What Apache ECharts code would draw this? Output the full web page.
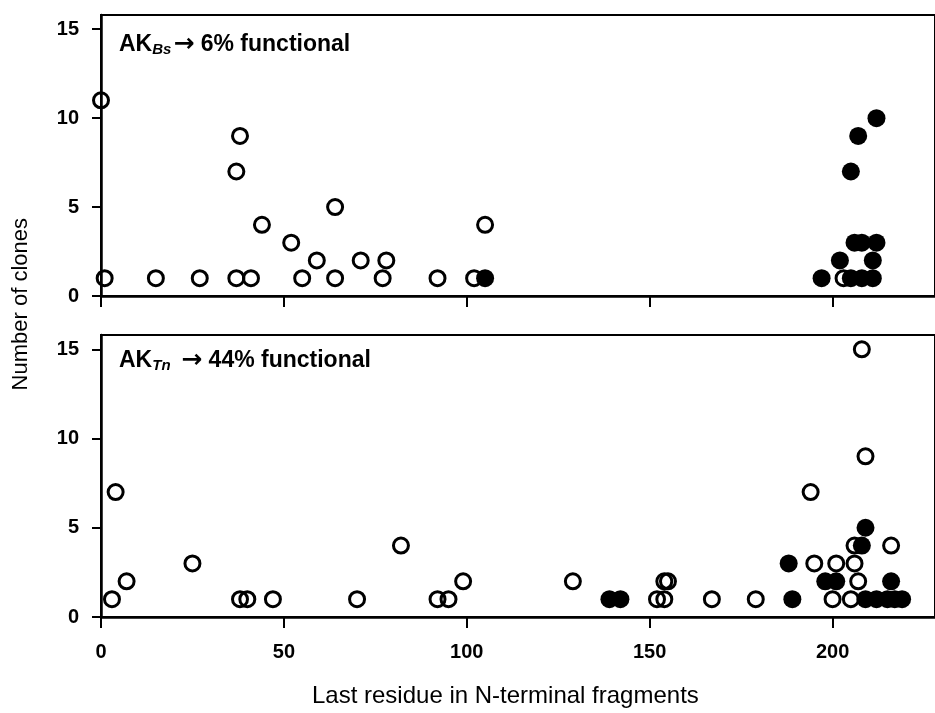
<!DOCTYPE html>
<html>
<head>
<meta charset="utf-8">
<script src="https://cdn.jsdelivr.net/npm/echarts@6/dist/echarts.min.js"></script>
<style>
  html, body { margin: 0; padding: 0; background: #fff; }
  #chart { width: 935px; height: 713px; }
</style>
</head>
<body>
<div id="chart"></div>
<script>
// [last residue, number of clones]
const bsOpen = [[0, 11], [1, 1], [15, 1], [27, 1], [37, 1], [37, 7], [38, 9], [41, 1], [44, 4], [52, 3], [55, 1], [59, 2], [64, 5], [64, 1], [71, 2], [77, 1], [78, 2], [92, 1], [102, 1], [105, 4], [203, 1]]
const bsFilled = [[105, 1], [197, 1], [202, 2], [205, 1], [205, 7], [206, 3], [207, 9], [208, 3], [208, 1], [211, 1], [211, 2], [212, 3], [212, 10]]
const tnOpen = [[3, 1], [4, 7], [7, 2], [25, 3], [38, 1], [40, 1], [47, 1], [70, 1], [82, 4], [92, 1], [95, 1], [99, 2], [129, 2], [152, 1], [154, 1], [154, 2], [155, 2], [167, 1], [179, 1], [194, 7], [195, 3], [200, 1], [201, 3], [205, 1], [206, 3], [206, 4], [207, 2], [208, 15], [209, 9], [216, 4]]
const tnFilled = [[139, 1], [142, 1], [188, 3], [189, 1], [198, 2], [201, 2], [208, 4], [209, 5], [209, 1], [212, 1], [215, 1], [216, 2], [217, 1], [219, 1]]
const xTicks = [0, 50, 100, 150, 200]
const yTicks = [0, 5, 10, 15]

const font = '"Liberation Sans", Arial, sans-serif'

function xAxis(gridIndex, showLabels) {
  return {
    type: 'value',
    gridIndex: gridIndex,
    min: 0,
    max: 228,
    splitLine: { show: false },
    axisLine: { lineStyle: { color: '#000', width: 2.5 } },
    axisTick: { length: 11, lineStyle: { color: '#000', width: 2 }, customValues: xTicks },
    axisLabel: {
      show: showLabels,
      customValues: xTicks,
      margin: 25,
      color: '#000',
      fontSize: 20,
      fontWeight: 'bold',
      fontFamily: font
    }
  }
}

function yAxis(gridIndex) {
  return {
    type: 'value',
    gridIndex: gridIndex,
    min: 0,
    max: 15.8,
    splitLine: { show: false },
    axisLine: { show: true, lineStyle: { color: '#000', width: 2.5 } },
    axisTick: { show: true, length: 9, lineStyle: { color: '#000', width: 2 }, customValues: yTicks },
    axisLabel: {
      customValues: yTicks,
      margin: 22,
      color: '#000',
      fontSize: 20,
      fontWeight: 'bold',
      fontFamily: font
    }
  }
}

function series(data, idx, filled) {
  return {
    type: 'scatter',
    xAxisIndex: idx,
    yAxisIndex: idx,
    data: data,
    symbol: 'circle',
    symbolSize: filled ? 18 : 15,
    itemStyle: filled
      ? { color: '#000', opacity: 1 }
      : { color: 'rgba(0,0,0,0)', borderColor: '#000', borderWidth: 3, opacity: 1 },
    emphasis: { disabled: true }
  }
}

const label = {
  a: { fontSize: 23, fontWeight: 'bold', fontFamily: font, color: '#000' },
  r: { fontSize: 25, fontWeight: 'bold', fontFamily: '"DejaVu Sans"', color: '#000' },
  s: { fontSize: 15, fontWeight: 'bold', fontStyle: 'italic', fontFamily: font, color: '#000', padding: [10, 2, 0, 0] }
}

const chart = echarts.init(document.getElementById('chart'))
chart.setOption({
  animation: false,
  grid: [
    { left: 101, top: 15, width: 838, height: 281, show: true, borderColor: '#000', borderWidth: 2 },
    { left: 101, top: 335, width: 838, height: 282, show: true, borderColor: '#000', borderWidth: 2 }
  ],
  xAxis: [xAxis(0, false), xAxis(1, true)],
  yAxis: [yAxis(0), yAxis(1)],
  series: [
    series(bsOpen, 0, false),
    series(bsFilled, 0, true),
    series(tnOpen, 1, false),
    series(tnFilled, 1, true)
  ],
  graphic: [
    {
      type: 'text', left: 119, top: 32,
      style: { text: '{a|AK}{s|Bs}{r|→}{a| 6% functional}', rich: label }
    },
    {
      type: 'text', left: 119, top: 348,
      style: { text: '{a|AK}{s|Tn}{r| →}{a| 44% functional}', rich: label }
    },
    {
      type: 'text', left: 10, top: 218, rotation: Math.PI / 2,
      style: { text: 'Number of clones', fontSize: 22, fontFamily: font, fill: '#000' }
    },
    {
      type: 'text', left: 312, top: 684,
      style: { text: 'Last residue in N-terminal fragments', fontSize: 24, fontFamily: font, fill: '#000' }
    }
  ]
})
</script>
</body>
</html>
